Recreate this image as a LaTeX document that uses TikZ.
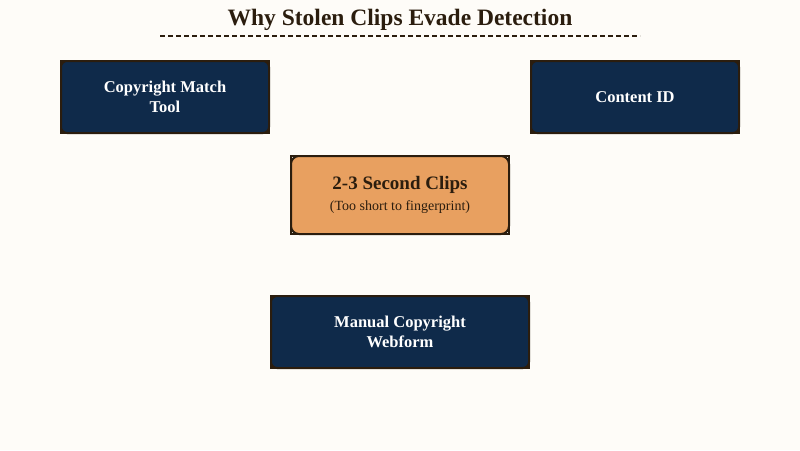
\documentclass[tikz,border=0pt]{standalone}
\usepackage{fontspec}
\setmainfont{Liberation Serif}
\definecolor{paper}{HTML}{FEFCF8}
\definecolor{ink}{HTML}{2B1D0E}
\definecolor{navy}{HTML}{0F2A4A}
\definecolor{clay}{HTML}{E8A060}
\tikzset{
  tool/.style={draw=ink, line width=2pt, rounded corners=6pt, fill=navy, text=white,
    font=\bfseries\fontsize{16.5}{20}\selectfont, align=center, inner sep=0pt, outer sep=0pt},
  hub/.style={draw=ink, line width=2pt, rounded corners=8pt, fill=clay, text=ink,
    align=center, inner sep=0pt, outer sep=0pt, minimum width=218pt, minimum height=78pt}
}
\begin{document}
\begin{tikzpicture}[x=1pt,y=-1pt]
\useasboundingbox[fill=paper] (0,0) rectangle (800,450);
\node[text=ink, font=\bfseries\fontsize{23.5}{26}\selectfont] (title) at (400,20) {Why Stolen Clips Evade Detection};
\draw[ink, line width=1.2pt, dash pattern=on 5pt off 3pt] (160,36) -- (640,36);

\node[tool, minimum width=208pt, minimum height=72pt] (match) at (165,97) {Copyright Match\\Tool};
\node[tool, minimum width=208pt, minimum height=72pt] (contentid) at (635,97) {Content ID};
\node[hub] (clips) at (400,195) {{\bfseries\fontsize{19}{22}\selectfont 2-3 Second Clips}\\[6pt]{\fontsize{14}{16}\selectfont (Too short to fingerprint)}};
\node[tool, minimum width=258pt, minimum height=72pt] (webform) at (400,332) {Manual Copyright\\Webform};

% sharp corner marks round each box
\foreach \n in {match,contentid,clips,webform} \draw[ink, line width=1.2pt] (\n.south west) rectangle (\n.north east);
\end{tikzpicture}
\end{document}
